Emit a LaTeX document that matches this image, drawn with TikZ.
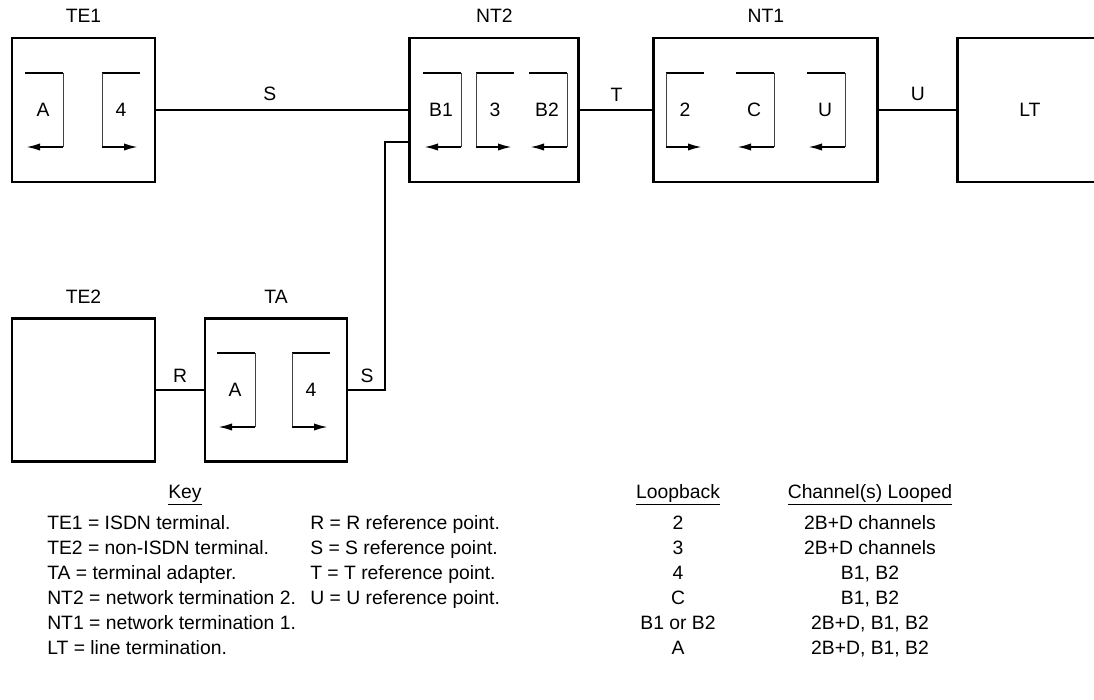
\documentclass[tikz,border=0pt]{standalone}
\usepackage{fontspec}
\setmainfont{Liberation Sans}
\usetikzlibrary{arrows.meta,positioning}
\tikzset{blk/.style={draw,line width=2.2pt,minimum width=107.25pt,minimum height=108pt,inner sep=0pt},ttl/.style={inner sep=3pt},lbl/.style={inner sep=3pt},conn/.style={line width=1.5pt},lptop/.style={line width=1.2pt},lpside/.style={line width=.7pt,black!75},lparr/.style={line width=1.5pt,-{Latex[length=10.5pt,width=5.5pt]}},keytxt/.style={inner sep=0pt,text height=10pt,text depth=3pt}}
\begin{document}
\begin{tikzpicture}[x=0.75pt,y=-0.75pt,font=\fontsize{14.5}{17}\selectfont]
\useasboundingbox (0,0) rectangle (1094,699);
\clip (0,0) rectangle (1094,699);
\node[blk] (te1) at (83.5,110) {};
\node[blk,minimum width=126.75pt,right=189pt of te1] (nt2) {};
\node[blk,minimum width=168pt,right=54pt of nt2] (nt1) {};
\node[blk,minimum width=108pt,right=57.8pt of nt1] (lt) {LT};
\node[blk,minimum height=107.25pt,below=100.5pt of te1] (te2) {};
\node[blk,minimum width=106.5pt,minimum height=107.25pt,right=35.3pt of te2] (ta) {};
\node[ttl,above=7pt of te1] (te1t) {TE1};\node[ttl,above=7pt of nt2] (nt2t) {NT2};\node[ttl,above=7pt of nt1] (nt1t) {NT1};\node[ttl,above=7pt of te2] (te2t) {TE2};\node[ttl,above=7pt of ta] (tat) {TA};
% loops: arrow back to the left
\foreach \x/\y/\t [count=\i] in {25/110/A,423/110/B1,529/110/B2,736/110/C,807/110/U,217/390/A}{\draw[lptop] (\x,\y-37) -- (\x+38,\y-37);\draw[lpside] (\x+38,\y-37) -- (\x+38,\y+37);\draw[lparr] (\x+38,\y+37) -- (\x+1,\y+37);\node[lbl] (lpl\i) at (\x+18,\y) {\t};}
% loops: arrow on to the right
\foreach \x/\y/\t [count=\i] in {102/110/4,476/110/3,666/110/2,292/390/4}{\draw[lptop] (\x,\y-37) -- (\x+38,\y-37);\draw[lpside] (\x,\y-37) -- (\x,\y+37);\draw[lparr] (\x,\y+37) -- (\x+36,\y+37);\node[lbl] (lpr\i) at (\x+19,\y) {\t};}
\draw[conn] (te1) -- node[lbl,above=3pt,pos=.45] (stop) {S} (nt2);\draw[conn] (nt2) -- node[lbl,above=3pt] (tref) {T} (nt1);\draw[conn] (nt1) -- node[lbl,above=3pt] (uref) {U} (lt);
\draw[conn] (te2) -- node[lbl,above=2pt] (rref) {R} (ta);\draw[conn] (ta.east) -- node[lbl,above=2pt] (slow) {S} ++(37,0) |- ([yshift=-24pt]nt2.west);
% key and loopback table
\node (keyh) at (185,495) {\underline{Key}};\node (looph) at (678,495) {\underline{Loopback}};\node (chanh) at (870,495) {\underline{Channel(s) Looped}};
\foreach \t [count=\i] in {TE1 = ISDN terminal.,TE2 = non-ISDN terminal.,TA = terminal adapter.,NT2 = network termination 2.,NT1 = network termination 1.,LT = line termination.}{\node[keytxt,anchor=west] (keyl\i) at (47,500+25*\i) {\t};}
\foreach \t [count=\i] in {R = R reference point.,S = S reference point.,T = T reference point.,U = U reference point.}{\node[keytxt,anchor=west] (keyr\i) at (310,500+25*\i) {\t};}
\foreach \t [count=\i] in {2,3,4,C,B1 or B2,A}{\node[keytxt] (loop\i) at (678,500+25*\i) {\t};}
\foreach \t [count=\i] in {2B+D channels,2B+D channels,{B1, B2},{B1, B2},{2B+D, B1, B2},{2B+D, B1, B2}}{\node[keytxt] (chan\i) at (870,500+25*\i) {\t};}
\end{tikzpicture}
\end{document}
